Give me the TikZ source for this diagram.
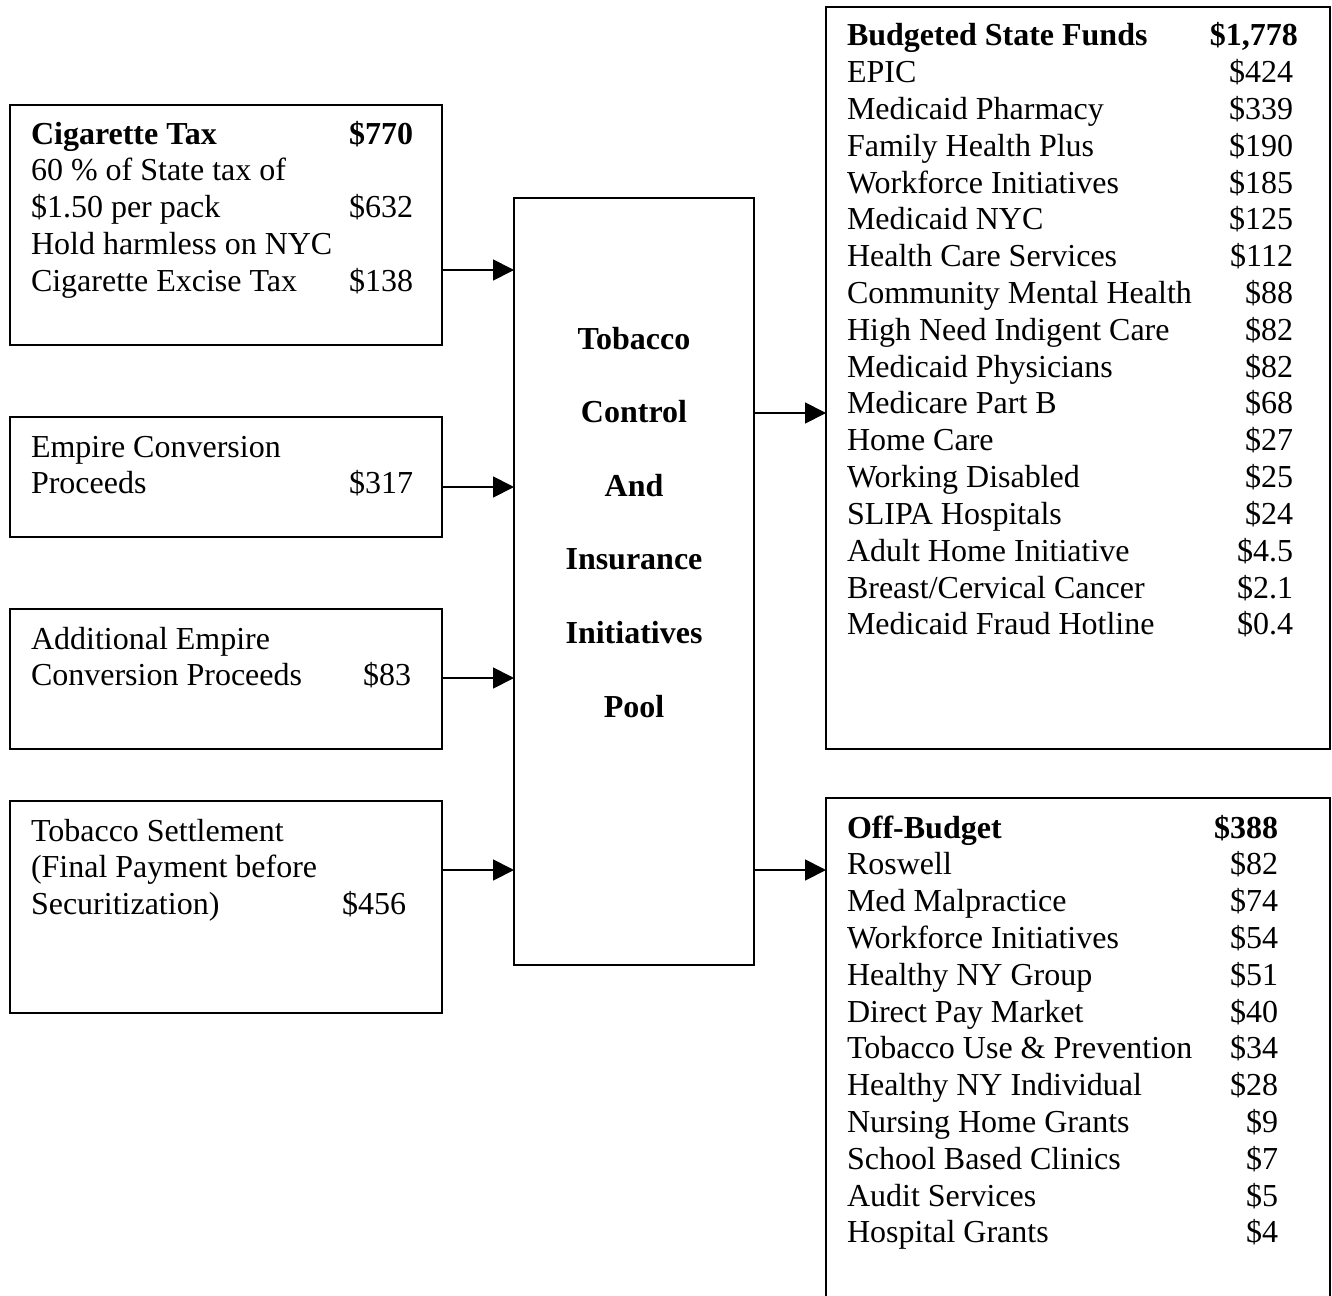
\documentclass[tikz,border=0pt]{standalone}
\usepackage{fontspec}
\setmainfont{Liberation Serif}
\usetikzlibrary{arrows.meta}
\tikzset{
  box/.style={draw, line width=1.8pt, rectangle, inner sep=0pt, outer sep=0pt, anchor=north west},
  txt/.style={anchor=base west, inner sep=0pt, outer sep=0pt, font=\fontsize{32}{36.8}\selectfont},
  pooltxt/.style={anchor=base, inner sep=0pt, outer sep=0pt, font=\bfseries\fontsize{32}{73.6}\selectfont},
  arr/.style={line width=1.8pt, -{Triangle[length=21pt,width=21pt]}}
}
\newcommand{\rowtab}[2]{\begin{tabular*}{#1}[t]{@{}l@{\extracolsep{\fill}}r@{}}#2\end{tabular*}}
\begin{document}
\begin{tikzpicture}[x=1pt,y=-1pt]
\useasboundingbox (0,0) rectangle (1332,1295);
% boxes
\node[box, minimum width=432pt, minimum height=240pt] (cig) at (10,105) {};
\node[box, minimum width=432pt, minimum height=120pt] (emp) at (10,417) {};
\node[box, minimum width=432pt, minimum height=140pt] (add) at (10,609) {};
\node[box, minimum width=432pt, minimum height=212pt] (set) at (10,801) {};
\node[box, minimum width=240pt, minimum height=767pt] (pool) at (514,198) {};
\node[box, minimum width=504pt, minimum height=742pt] (bud) at (826,7) {};
\node[box, minimum width=504pt, minimum height=540pt] (off) at (826,798) {};
% texts
\node[txt] (cigt) at (31,144) {\rowtab{382pt}{%
\textbf{Cigarette Tax} & \textbf{\$770}\\
60 \% of State tax of & \\
\$1.50 per pack & \$632\\
Hold harmless on NYC & \\
Cigarette Excise Tax & \$138}};
\node[txt] (empt) at (31,457) {\rowtab{382pt}{%
Empire Conversion & \\
Proceeds & \$317}};
\node[txt] (addt) at (31,649) {\rowtab{380pt}{%
Additional Empire & \\
Conversion Proceeds & \$83}};
\node[txt] (sett) at (31,841) {\rowtab{375pt}{%
Tobacco Settlement & \\
(Final Payment before & \\
Securitization) & \$456}};
\node[pooltxt] (poolt) at (634,349) {\begin{tabular}[t]{@{}c@{}}Tobacco\\Control\\And\\Insurance\\Initiatives\\Pool\end{tabular}};
\node[txt] (budt) at (847,46) {\rowtab{446pt}{%
\textbf{Budgeted State Funds} & \textbf{\$1,778}\hspace*{-5pt}\\
EPIC & \$424\\
Medicaid Pharmacy & \$339\\
Family Health Plus & \$190\\
Workforce Initiatives & \$185\\
Medicaid NYC & \$125\\
Health Care Services & \$112\\
Community Mental Health & \$88\\
High Need Indigent Care & \$82\\
Medicaid Physicians & \$82\\
Medicare Part B & \$68\\
Home Care & \$27\\
Working Disabled & \$25\\
SLIPA Hospitals & \$24\\
Adult Home Initiative & \$4.5\\
Breast/Cervical Cancer & \$2.1\\
Medicaid Fraud Hotline & \$0.4}};
\node[txt] (offt) at (847,838) {\rowtab{431pt}{%
\textbf{Off-Budget} & \textbf{\$388}\\
Roswell & \$82\\
Med Malpractice & \$74\\
Workforce Initiatives & \$54\\
Healthy NY Group & \$51\\
Direct Pay Market & \$40\\
Tobacco Use \& Prevention & \$34\\
Healthy NY Individual & \$28\\
Nursing Home Grants & \$9\\
School Based Clinics & \$7\\
Audit Services & \$5\\
Hospital Grants & \$4}};
% arrow levels
\coordinate (y1) at (0,270);
\coordinate (y2) at (0,487);
\coordinate (y3) at (0,678);
\coordinate (y4) at (0,870);
\coordinate (y5) at (0,413);
\coordinate (y6) at (0,870);
\draw[arr] (cig.east |- y1) -- (pool.west |- y1);
\draw[arr] (emp.east |- y2) -- (pool.west |- y2);
\draw[arr] (add.east |- y3) -- (pool.west |- y3);
\draw[arr] (set.east |- y4) -- (pool.west |- y4);
\draw[arr] (pool.east |- y5) -- (bud.west |- y5);
\draw[arr] (pool.east |- y6) -- (off.west |- y6);
\end{tikzpicture}
\end{document}
